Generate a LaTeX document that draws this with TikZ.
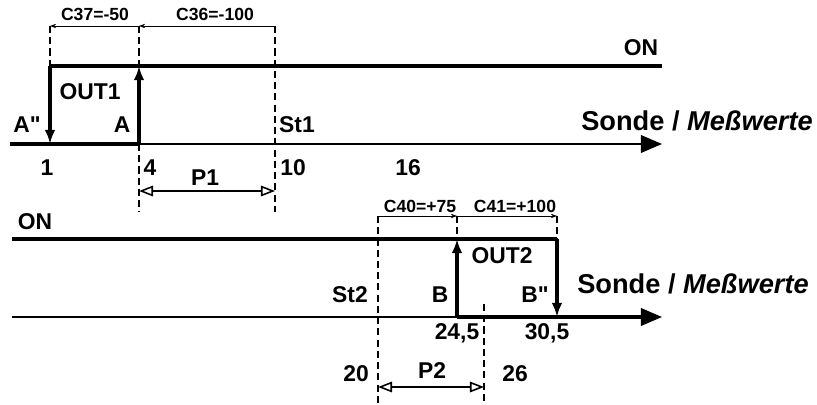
\documentclass[tikz,border=0pt]{standalone}
\usepackage{fontspec}
\setmainfont{Liberation Sans}
\usetikzlibrary{arrows.meta}

\begin{document}
\begin{tikzpicture}[x=0.02cm, y=-0.02cm, >={Latex[length=8pt,width=6pt]},
  lbl/.style={font=\bfseries\fontsize{13}{15}\selectfont, inner sep=0pt},
  dimlbl/.style={font=\bfseries\fontsize{10}{12}\selectfont, inner sep=0pt},
  axlbl/.style={font=\bfseries\fontsize{15.5}{18}\selectfont, inner sep=0pt},
  hi/.style={line width=1.8pt},
  axis/.style={line width=1.1pt, -{Triangle[length=12pt,width=10pt]}},
  guide/.style={line width=0.6pt, dash pattern=on 4pt off 2.4pt},
  dimline/.style={line width=0.4pt, -{Stealth[length=3.5pt,width=2.5pt]}},
  span/.style={line width=0.9pt, {Triangle[open,length=8pt,width=6pt]}-{Triangle[open,length=8pt,width=6pt]}}]

\useasboundingbox (0,0) rectangle (817,405);

% ---------------- upper diagram (OUT1) ----------------
\def\yOnA{66}   % ON level
\def\yAxA{144}  % axis level
\def\yDimA{26}  % dimension line

% key points
\coordinate (axAstart) at (10,\yAxA);
\coordinate (axAend)   at (662,\yAxA);
\coordinate (pA2)      at (50,\yAxA);
\coordinate (pA2on)    at (50,\yOnA);
\coordinate (pA)       at (139,\yAxA);
\coordinate (pAon)     at (139,\yOnA);
\coordinate (onAend)   at (662,\yOnA);

% guide lines
\coordinate (gA1t) at (50,\yDimA);
\coordinate (gA4t) at (139,\yDimA);
\coordinate (gA4b) at (139,212);
\coordinate (gA10t) at (275,\yDimA);
\coordinate (gA10b) at (275,212);
\draw[guide] (gA1t) -- (pA2on);
\draw[guide] (gA4t) -- (pAon);
\draw[guide] (pA) -- (gA4b);
\draw[guide] (gA10t) -- (gA10b);

% dimensions C37 / C36
\draw[dimline] (gA4t) -- (gA1t);
\draw[dimline] (gA10t) -- (gA4t);
\node[dimlbl] (c37) at (95,14) {C37=-50};
\node[dimlbl] (c36) at (215,14) {C36=-100};

% axis and switching curve
\draw[axis] (axAstart) -- (axAend);
\draw[hi] (axAstart) -- (pA);
\draw[hi] (pA2on) -- (onAend);
\draw[hi, ->] (pA2on) -- (pA2);
\draw[hi, ->] (pA) -- (pAon);

% P1
\coordinate (pP1a) at (139,191);
\coordinate (pP1b) at (275,191);
\draw[span] (pP1a) -- (pP1b);
\node[lbl] (p1) at (205,178) {P1};

% labels
\node[lbl] (onA) at (641,48) {ON};
\node[lbl] (out1) at (90,92) {OUT1};
\node[lbl] (lblA2) at (27,125) {A\textquotedbl};
\node[lbl] (lblA) at (122,125) {A};
\node[lbl] (st1) at (297,125) {St1};
\node[axlbl] (sondeA) at (697,121) {Sonde / \textit{Meßwerte}};
\node[lbl] (v1) at (47,168) {1};
\node[lbl] (v4) at (150,168) {4};
\node[lbl] (v10) at (293,168) {10};
\node[lbl] (v16) at (408,168) {16};

% ---------------- lower diagram (OUT2) ----------------
\def\yOnB{239}  % ON level
\def\yAxB{317}  % axis level
\def\yDimB{216} % dimension line

% key points
\coordinate (axBstart) at (12,\yAxB);
\coordinate (axBend)   at (662,\yAxB);
\coordinate (thickB)   at (645,\yAxB);
\coordinate (onBstart) at (12,\yOnB);
\coordinate (pB)       at (457,\yAxB);
\coordinate (pBon)     at (457,\yOnB);
\coordinate (pB2)      at (557,\yAxB);
\coordinate (pB2on)    at (557,\yOnB);

% guide lines
\coordinate (gB20t) at (378,\yDimB);
\coordinate (gB20b) at (378,405);
\coordinate (gBt)   at (457,\yDimB);
\coordinate (gB2t)  at (557,\yDimB);
\coordinate (gB26t) at (484,304);
\coordinate (gB26b) at (484,405);
\draw[guide] (gB20t) -- (gB20b);
\draw[guide] (gBt) -- (pBon);
\draw[guide] (gB2t) -- (pB2on);
\draw[guide] (gB26t) -- (gB26b);

% dimensions C40 / C41
\draw[dimline] (gB20t) -- (gBt);
\draw[dimline] (gBt) -- (gB2t);
\node[dimlbl] (c40) at (420,206) {C40=+75};
\node[dimlbl] (c41) at (515,206) {C41=+100};

% axis and switching curve
\draw[axis] (axBstart) -- (axBend);
\draw[hi] (pB) -- (thickB);
\draw[hi] (onBstart) -- (pB2on);
\draw[hi, ->] (pB) -- (pBon);
\draw[hi, ->] (pB2on) -- (pB2);

% P2
\coordinate (pP2a) at (378,387);
\coordinate (pP2b) at (484,387);
\draw[span] (pP2a) -- (pP2b);
\node[lbl] (p2) at (432,371) {P2};

% labels
\node[lbl] (onB) at (35,222) {ON};
\node[lbl] (out2) at (502,256) {OUT2};
\node[lbl] (st2) at (350,295) {St2};
\node[lbl] (lblB) at (440,295) {B};
\node[lbl] (lblB2) at (535,295) {B\textquotedbl};
\node[axlbl] (sondeB) at (693,284) {Sonde / \textit{Meßwerte}};
\node[lbl] (v245) at (457,333) {24,5};
\node[lbl] (v305) at (547,333) {30,5};
\node[lbl] (v20) at (356,374) {20};
\node[lbl] (v26) at (515,374) {26};

\end{tikzpicture}
\end{document}
